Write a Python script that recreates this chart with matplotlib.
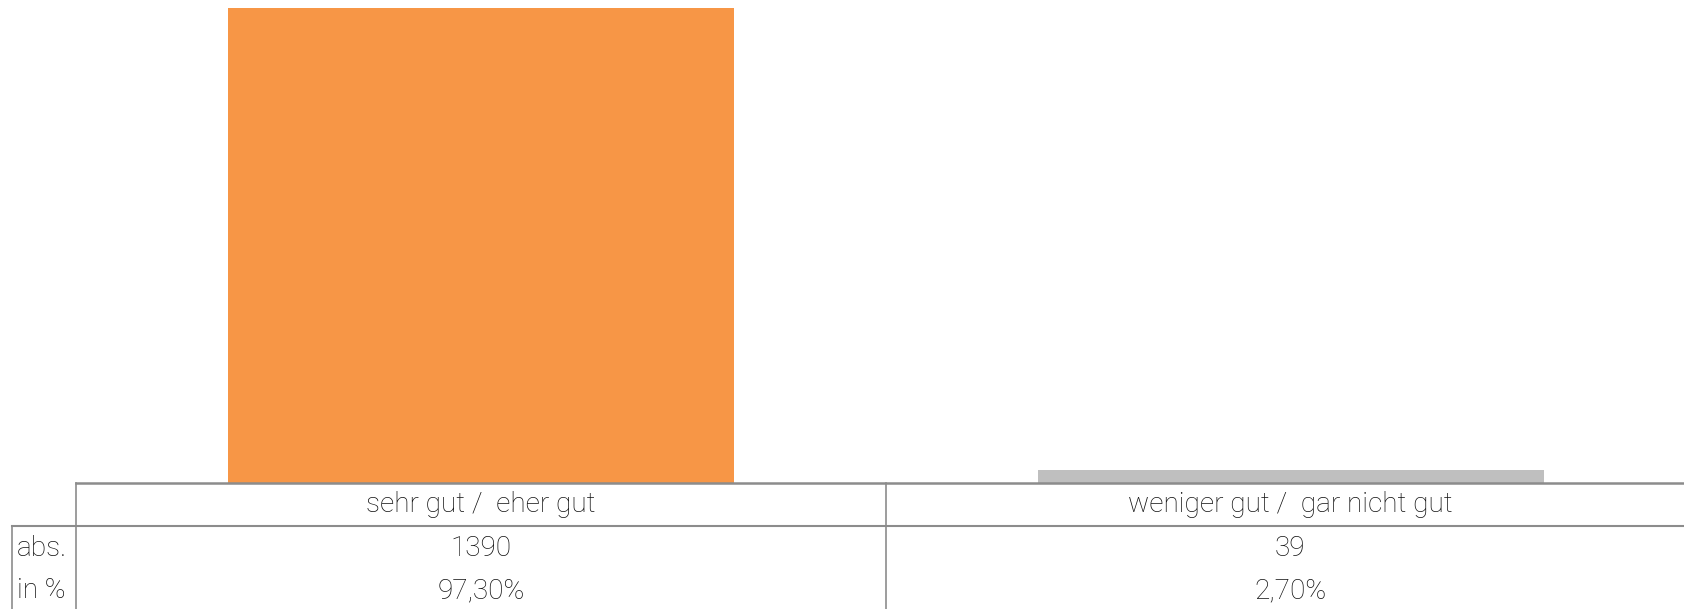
import matplotlib.pyplot as plt
from matplotlib.lines import Line2D

# data
categories = ['sehr gut /  eher gut', 'weniger gut /  gar nicht gut']
values = [1390, 39]
percents = ['97,30%', '2,70%']
colors = ['#F79646', '#BFBFBF']

W, H = 1684, 609
fig = plt.figure(figsize=(W / 100, H / 100), dpi=100)
plt.rcParams['font.family'] = ['Roboto', 'DejaVu Sans']


def fx(x):
    return x / W


def fy(y):
    return 1 - y / H


# bar area sits right on top of the table, columns are 810 px wide
ax = fig.add_axes([fx(76), fy(483), 1620 / W, 483 / H])
ax.bar(range(len(values)), values, width=0.625, color=colors)
ax.set_xlim(-0.5, len(values) - 0.5)
ax.set_ylim(0, 1413)
ax.axis('off')

grid = '#8c8c8c'


def hline(y, x0, x1, lw=1.5):
    fig.add_artist(Line2D([fx(x0), fx(x1)], [fy(y), fy(y)], color=grid, lw=lw))


def vline(x, y0, y1, lw=1.2):
    fig.add_artist(Line2D([fx(x), fx(x)], [fy(y0), fy(y1)], color=grid, lw=lw))


hline(483, 76, W, lw=1.8)
hline(526, 12, W)
vline(12, 526, H)
vline(76, 483, H)
vline(886, 483, H)

# table text
fs = 20.2
txt = dict(ha='center', va='center', fontsize=fs, fontweight='light', color='#111111')
col_centers = [481, 1290]
for cx, cat, v, p in zip(col_centers, categories, values, percents):
    fig.text(fx(cx), fy(505), cat, **txt)
    fig.text(fx(cx), fy(548), str(v), **txt)
    fig.text(fx(cx), fy(591), p, **txt)

txt['ha'] = 'left'
fig.text(fx(17), fy(548), 'abs.', **txt)
fig.text(fx(17), fy(591), 'in %', **txt)

fig.savefig('out.png', dpi=100)
